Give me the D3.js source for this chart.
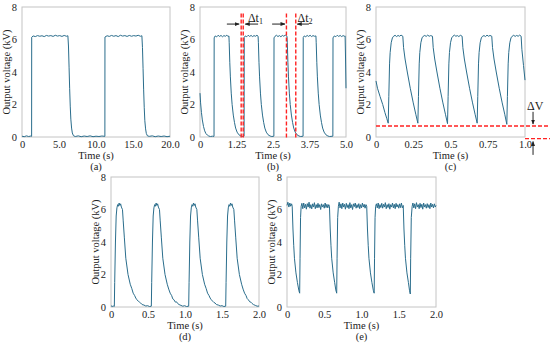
<!DOCTYPE html>
<html lang="en">
<head>
<meta charset="UTF-8">
<title>Output voltage waveforms</title>
<script src="https://d3js.org/d3.v7.min.js"></script>
<style>
  body { margin: 0; background: #fff; }
  svg { display: block; font-family: "Liberation Serif", "Times New Roman", serif; }
  .lbl { font-size: 10.5px; fill: #222; }
</style>
</head>
<body>
<svg id="chart" width="550" height="345"></svg>
<script>
// ---- data ----
const yTicks = [0, 2, 4, 6, 8];

const xTicksA = [0, 5, 10, 15, 20];
const xLabelsA = ["0", "5.0", "10.0", "15.0", "20.0"];
const xTicksB = [0, 1.25, 2.5, 3.75, 5];
const xLabelsB = ["0", "1.25", "2.5", "3.75", "5.0"];
const xTicksC = [0, 0.25, 0.5, 0.75, 1];
const xLabelsC = ["0", "0.25", "0.5", "0.75", "1.0"];
const xTicksDE = [0, 0.5, 1, 1.5, 2];
const xLabelsDE = ["0", "0.5", "1.0", "1.5", "2.0"];

// [time (s), voltage (kV)]
const traceA = [
  [0,0.05],[0.3,0.02],[0.6,0.07],[0.9,0.03],[1.2,0.06],[1.3,0.04],
  [1.31,6.14],[1.5,6.22],[1.8,6.18],[2.1,6.24],[2.4,6.2],[2.7,6.23],[3.0,6.18],[3.3,6.25],[3.6,6.21],[3.9,6.24],[4.2,6.19],[4.5,6.26],[4.8,6.21],[5.1,6.24],[5.4,6.19],[5.7,6.25],[6.0,6.2],[6.2,6.23],
  [6.28,5.6],[6.36,4.3],[6.44,3.0],[6.52,1.9],[6.6,1.1],[6.7,0.55],[6.8,0.25],[6.95,0.08],[7.2,0.03],[7.6,0.07],[8.0,0.02],[8.4,0.06],[8.8,0.03],[9.2,0.07],[9.6,0.02],[10.0,0.05],[10.4,0.03],[10.8,0.06],[11.2,0.04],
  [11.21,6.15],[11.5,6.23],[11.8,6.19],[12.1,6.25],[12.4,6.2],[12.7,6.24],[13.0,6.18],[13.3,6.26],[13.6,6.21],[13.9,6.24],[14.2,6.19],[14.5,6.25],[14.8,6.2],[15.1,6.24],[15.4,6.21],[15.7,6.26],[16.0,6.2],[16.2,6.23],
  [16.28,5.5],[16.36,4.2],[16.44,2.9],[16.52,1.8],[16.6,1.0],[16.7,0.5],[16.8,0.22],[16.95,0.07],[17.2,0.04],[17.6,0.07],[18.0,0.02],[18.4,0.06],[18.8,0.03],[19.2,0.06],[19.6,0.02],[20,0.05]
];

const traceB = [
  [0,2.7],[0.02,2.1],[0.05,1.5],[0.08,1.05],[0.12,0.65],[0.16,0.38],[0.2,0.22],[0.25,0.12],[0.3,0.06],[0.36,0.03],[0.42,0.05],[0.48,0.04],
  [0.485,6.1],[0.52,6.22],[0.57,6.16],[0.62,6.26],[0.67,6.19],[0.72,6.25],[0.77,6.17],[0.82,6.24],[0.87,6.2],[0.92,6.27],[0.96,6.18],[0.99,6.22],
  [1.0,5.8],[1.02,4.6],[1.04,3.7],[1.07,2.7],[1.1,2.0],[1.14,1.35],[1.18,0.9],[1.22,0.55],[1.27,0.3],[1.33,0.14],[1.4,0.06],[1.46,0.03],[1.51,0.05],
  [1.515,6.12],[1.55,6.22],[1.6,6.17],[1.65,6.26],[1.7,6.19],[1.75,6.25],[1.8,6.18],[1.85,6.24],[1.9,6.2],[1.95,6.26],[1.99,6.2],
  [2.0,5.8],[2.02,4.6],[2.04,3.7],[2.07,2.7],[2.1,2.0],[2.14,1.35],[2.18,0.9],[2.22,0.55],[2.27,0.3],[2.33,0.14],[2.4,0.06],[2.46,0.03],[2.53,0.05],
  [2.535,6.1],[2.57,6.2],[2.62,6.26],[2.67,6.18],[2.72,6.24],[2.77,6.17],[2.82,6.25],[2.87,6.2],[2.92,6.27],[2.98,6.2],
  [2.99,5.8],[3.01,4.6],[3.03,3.7],[3.06,2.7],[3.09,2.0],[3.13,1.35],[3.17,0.9],[3.21,0.55],[3.26,0.3],[3.32,0.14],[3.39,0.06],[3.45,0.03],[3.53,0.05],
  [3.535,6.12],[3.57,6.22],[3.62,6.17],[3.67,6.25],[3.72,6.19],[3.77,6.26],[3.82,6.18],[3.87,6.24],[3.92,6.2],[3.97,6.22],
  [3.98,5.8],[4.0,4.6],[4.02,3.7],[4.05,2.7],[4.08,2.0],[4.12,1.35],[4.16,0.9],[4.2,0.55],[4.25,0.3],[4.31,0.14],[4.38,0.06],[4.44,0.03],[4.55,0.05],
  [4.555,6.1],[4.6,6.22],[4.65,6.17],[4.7,6.26],[4.75,6.19],[4.8,6.25],[4.85,6.18],[4.9,6.24],[4.95,6.2],[4.97,6.22],[4.985,4.8],[5.0,3.0]
];

const traceC = [
  [0,3.45],[0.01,3.0],[0.027,2.5],[0.045,2.0],[0.06,1.5],[0.072,1.15],[0.082,0.85],
  [0.086,2.5],[0.091,4.5],[0.095,5.2],[0.102,5.8],[0.11,6.1],[0.118,6.2],[0.128,6.26],[0.138,6.18],[0.148,6.25],[0.158,6.2],[0.168,6.27],[0.18,6.2],
  [0.185,5.5],[0.195,4.8],[0.21,4.0],[0.23,3.0],[0.25,2.1],[0.267,1.4],[0.281,0.85],
  [0.285,2.5],[0.29,4.5],[0.294,5.2],[0.301,5.8],[0.309,6.1],[0.317,6.2],[0.327,6.25],[0.337,6.19],[0.347,6.27],[0.357,6.2],[0.367,6.24],[0.379,6.2],
  [0.384,5.5],[0.394,4.8],[0.409,4.0],[0.429,3.0],[0.449,2.1],[0.466,1.4],[0.48,0.82],
  [0.484,2.5],[0.489,4.5],[0.493,5.2],[0.5,5.8],[0.508,6.1],[0.516,6.2],[0.526,6.27],[0.536,6.2],[0.546,6.24],[0.556,6.18],[0.566,6.26],[0.578,6.2],
  [0.583,5.5],[0.593,4.8],[0.608,4.0],[0.628,3.0],[0.648,2.1],[0.665,1.4],[0.679,0.85],
  [0.683,2.5],[0.688,4.5],[0.692,5.2],[0.699,5.8],[0.707,6.1],[0.715,6.2],[0.725,6.24],[0.735,6.18],[0.745,6.27],[0.755,6.2],[0.765,6.25],[0.777,6.2],
  [0.782,5.5],[0.792,4.8],[0.807,4.0],[0.827,3.0],[0.847,2.1],[0.864,1.4],[0.878,0.78],
  [0.882,2.5],[0.887,4.5],[0.891,5.2],[0.898,5.8],[0.906,6.1],[0.914,6.2],[0.924,6.26],[0.934,6.19],[0.944,6.25],[0.954,6.2],[0.964,6.27],[0.974,6.2],
  [0.979,5.4],[0.99,4.4],[1.0,3.5]
];

const traceD = [
  [0,0.08],[0.015,0.03],[0.03,0.06],[0.045,0.04],
  [0.05,1.5],[0.06,4.0],[0.07,5.6],[0.08,6.1],[0.09,6.3],[0.1,6.2],[0.11,6.4],[0.12,6.25],[0.13,6.35],[0.14,6.15],[0.155,6.0],[0.165,5.3],[0.18,4.3],[0.2,3.0],[0.23,2.0],[0.26,1.4],[0.28,1.15],[0.3,0.85],[0.32,0.7],[0.335,0.55],[0.35,0.45],[0.37,0.35],[0.385,0.3],[0.4,0.25],[0.42,0.15],[0.445,0.12],[0.47,0.06],[0.495,0.08],[0.52,0.03],[0.545,0.05],
  [0.55,1.5],[0.56,4.0],[0.57,5.6],[0.58,6.1],[0.59,6.3],[0.6,6.2],[0.61,6.4],[0.62,6.25],[0.63,6.35],[0.64,6.15],[0.655,6.0],[0.665,5.3],[0.68,4.3],[0.7,3.0],[0.73,2.0],[0.76,1.4],[0.78,1.1],[0.8,0.85],[0.82,0.7],[0.835,0.5],[0.85,0.45],[0.87,0.3],[0.885,0.32],[0.9,0.22],[0.92,0.15],[0.945,0.1],[0.97,0.05],[0.995,0.08],[1.02,0.03],[1.05,0.05],
  [1.055,1.5],[1.065,4.0],[1.075,5.6],[1.085,6.1],[1.095,6.3],[1.105,6.2],[1.115,6.4],[1.125,6.25],[1.135,6.35],[1.145,6.15],[1.16,6.0],[1.17,5.3],[1.185,4.3],[1.205,3.0],[1.235,2.0],[1.265,1.4],[1.285,1.15],[1.305,0.85],[1.325,0.7],[1.34,0.55],[1.355,0.45],[1.375,0.35],[1.39,0.28],[1.405,0.25],[1.425,0.15],[1.45,0.12],[1.475,0.06],[1.5,0.08],[1.525,0.03],[1.55,0.05],
  [1.555,1.5],[1.565,4.0],[1.575,5.6],[1.585,6.1],[1.595,6.3],[1.605,6.2],[1.615,6.4],[1.625,6.25],[1.635,6.35],[1.645,6.15],[1.66,6.0],[1.67,5.3],[1.685,4.3],[1.705,3.0],[1.735,2.0],[1.765,1.4],[1.785,1.1],[1.805,0.85],[1.825,0.7],[1.84,0.52],[1.855,0.45],[1.875,0.32],[1.89,0.3],[1.905,0.22],[1.925,0.15],[1.95,0.1],[1.975,0.05],[2.0,0.06]
];

const traceE = [
  [0,6.25],[0.012,6.45],[0.025,6.15],[0.038,6.4],[0.05,6.2],[0.062,6.35],[0.07,6.2],
  [0.08,4.8],[0.09,3.8],[0.1,3.0],[0.12,2.1],[0.14,1.5],[0.16,1.0],[0.17,0.85],
  [0.175,3.0],[0.182,5.5],[0.19,6.2],[0.2,6.38],[0.212,6.05],[0.224,6.4],[0.236,6.1],[0.248,6.32],[0.26,6.02],[0.272,6.36],[0.284,6.15],[0.296,6.45],[0.308,6.08],[0.32,6.3],[0.332,6.04],[0.344,6.35],[0.356,6.15],[0.368,6.42],[0.38,6.05],[0.392,6.3],[0.404,6.1],[0.416,6.38],[0.428,6.12],[0.44,6.3],[0.452,6.0],[0.464,6.35],[0.476,6.15],[0.488,6.3],[0.5,6.08],[0.512,6.4],[0.524,6.12],[0.536,6.32],[0.548,6.1],[0.56,6.3],[0.57,6.2],
  [0.58,4.8],[0.59,3.8],[0.6,3.0],[0.62,2.1],[0.64,1.5],[0.655,1.05],[0.667,0.85],
  [0.672,3.0],[0.68,5.5],[0.69,6.2],[0.7,6.45],[0.712,6.1],[0.724,6.35],[0.736,6.05],[0.748,6.4],[0.76,6.15],[0.772,6.32],[0.784,6.02],[0.796,6.38],[0.808,6.12],[0.82,6.3],[0.832,6.05],[0.844,6.42],[0.856,6.1],[0.868,6.3],[0.88,6.0],[0.892,6.35],[0.904,6.18],[0.916,6.4],[0.928,6.08],[0.94,6.3],[0.952,6.12],[0.964,6.36],[0.976,6.05],[0.988,6.3],[1.0,6.1],[1.012,6.4],[1.024,6.15],[1.036,6.32],[1.048,6.08],[1.06,6.3],[1.07,6.2],
  [1.08,4.8],[1.09,3.8],[1.1,3.0],[1.12,2.1],[1.14,1.5],[1.16,1.0],[1.17,0.85],
  [1.175,3.0],[1.182,5.5],[1.19,6.2],[1.2,6.35],[1.212,6.1],[1.224,6.4],[1.236,6.05],[1.248,6.3],[1.26,6.12],[1.272,6.38],[1.284,6.08],[1.296,6.32],[1.308,6.15],[1.32,6.42],[1.332,6.05],[1.344,6.3],[1.356,6.12],[1.368,6.36],[1.38,6.02],[1.392,6.3],[1.404,6.15],[1.416,6.4],[1.428,6.1],[1.44,6.32],[1.452,6.05],[1.464,6.38],[1.476,6.15],[1.488,6.3],[1.5,6.08],[1.512,6.35],[1.524,6.12],[1.536,6.4],[1.548,6.1],[1.56,6.25],
  [1.57,4.8],[1.58,3.8],[1.59,3.0],[1.61,2.1],[1.63,1.5],[1.645,1.0],[1.655,0.8],
  [1.66,3.0],[1.668,5.5],[1.68,6.2],[1.69,6.4],[1.702,6.1],[1.714,6.35],[1.726,6.05],[1.738,6.42],[1.75,6.15],[1.762,6.3],[1.774,6.05],[1.786,6.38],[1.798,6.12],[1.81,6.32],[1.822,6.02],[1.834,6.4],[1.846,6.15],[1.858,6.3],[1.87,6.08],[1.882,6.36],[1.894,6.12],[1.906,6.3],[1.918,6.05],[1.93,6.4],[1.942,6.15],[1.954,6.32],[1.966,6.1],[1.978,6.35],[1.99,6.15],[2.0,6.25]
];

// annotations in (b): dashed markers and delay arrows [from t, to t, kV]
const dashTimesB = [1.41, 1.48, 2.96, 3.28];
const arrowsB = [[0.92, 1.34, 6.95], [1.99, 1.55, 6.95], [2.47, 2.91, 6.95], [3.73, 3.33, 6.95]];
const labelsB = [{ t: 1.64, v: 7.1, sub: "1" }, { t: 3.34, v: 7.1, sub: "2" }];

// annotations in (c): ripple level lines [from t, to t, kV] and arrows [t, from kV, to kV]
const dashLevelsC = [[0, 1.175, 0.68], [1.0, 1.175, -0.1]];
const arrowsC = [[1.054, 1.55, 0.8], [1.054, -1.1, -0.28]];

// ---- layout ----
const H = 130;
const panels = [
  { name: "(a)", left: 22,  top: 7,   w: 148, xMax: 20, ticks: xTicksA,  labels: xLabelsA,  trace: traceA },
  { name: "(b)", left: 200, top: 7,   w: 146, xMax: 5,  ticks: xTicksB,  labels: xLabelsB,  trace: traceB },
  { name: "(c)", left: 376, top: 7,   w: 149, xMax: 1,  ticks: xTicksC,  labels: xLabelsC,  trace: traceC },
  { name: "(d)", left: 111, top: 177, w: 148, xMax: 2,  ticks: xTicksDE, labels: xLabelsDE, trace: traceD },
  { name: "(e)", left: 287, top: 177, w: 149, xMax: 2,  ticks: xTicksDE, labels: xLabelsDE, trace: traceE }
];

const svg = d3.select("#chart");
const traceColor = "#2a6d8c";
const red = "#ff2222";

svg.append("defs").append("marker")
  .attr("id", "arr")
  .attr("viewBox", "0 0 10 10")
  .attr("refX", 9).attr("refY", 5)
  .attr("markerWidth", 5).attr("markerHeight", 5)
  .attr("orient", "auto")
  .append("path").attr("d", "M0,1L10,5L0,9z").attr("fill", "#222");

const scales = {};

panels.forEach(p => {
  const x = d3.scaleLinear().domain([0, p.xMax]).range([0, p.w]);
  const y = d3.scaleLinear().domain([0, 8]).range([H, 0]);
  scales[p.name] = { x, y };
  const g = svg.append("g").attr("transform", `translate(${p.left},${p.top})`);

  g.append("rect").attr("width", p.w).attr("height", H)
    .attr("fill", "none").attr("stroke", "#c4c4c4").attr("stroke-width", 1);

  g.append("g")
    .attr("transform", `translate(0,${H})`)
    .call(d3.axisBottom(x).tickValues(p.ticks).tickFormat((d, i) => p.labels[i]).tickSize(0).tickPadding(4))
    .attr("font-family", null).attr("font-size", null)
    .call(a => a.select(".domain").remove())
    .selectAll("text").attr("class", "lbl");

  g.append("g")
    .call(d3.axisLeft(y).tickValues(yTicks).tickSize(0).tickPadding(5))
    .attr("font-family", null).attr("font-size", null)
    .call(a => a.select(".domain").remove())
    .selectAll("text").attr("class", "lbl");

  g.append("path")
    .datum(p.trace)
    .attr("d", d3.line().x(d => x(d[0])).y(d => y(d[1])))
    .attr("fill", "none")
    .attr("stroke", traceColor)
    .attr("stroke-width", 1)
    .attr("stroke-linejoin", "round");

  g.append("text").attr("class", "lbl")
    .attr("x", p.w / 2).attr("y", H + 21.5)
    .attr("text-anchor", "middle").text("Time (s)");

  g.append("text").attr("class", "lbl")
    .attr("x", p.w / 2).attr("y", H + 32.5)
    .attr("text-anchor", "middle").text(p.name);

  g.append("text").attr("class", "lbl")
    .attr("transform", `translate(-15.5,${H / 2}) rotate(-90)`)
    .attr("text-anchor", "middle").attr("dominant-baseline", "central")
    .text("Output voltage (kV)");

  p.g = g;
});

// (b) annotations
{
  const { x, y } = scales["(b)"];
  const g = panels[1].g;
  g.selectAll(".dashB").data(dashTimesB).join("line")
    .attr("x1", d => x(d)).attr("x2", d => x(d))
    .attr("y1", y(7.6)).attr("y2", y(-0.05))
    .attr("stroke", red).attr("stroke-width", 1.4).attr("stroke-dasharray", "4,2");
  g.selectAll(".arrB").data(arrowsB).join("line")
    .attr("x1", d => x(d[0])).attr("x2", d => x(d[1]))
    .attr("y1", d => y(d[2])).attr("y2", d => y(d[2]))
    .attr("stroke", "#222").attr("stroke-width", 1).attr("marker-end", "url(#arr)");
  labelsB.forEach(l => {
    const t = g.append("text").attr("class", "lbl")
      .attr("x", x(l.t)).attr("y", y(l.v)).style("font-size", "12px");
    t.append("tspan").text("Δt");
    t.append("tspan").attr("dy", 2).style("font-size", "8px").text(l.sub);
  });
}

// (c) annotations
{
  const { x, y } = scales["(c)"];
  const g = panels[2].g;
  g.selectAll(".levC").data(dashLevelsC).join("line")
    .attr("x1", d => x(d[0])).attr("x2", d => x(d[1]))
    .attr("y1", d => y(d[2])).attr("y2", d => y(d[2]))
    .attr("stroke", red).attr("stroke-width", 1.4).attr("stroke-dasharray", "4,2");
  g.selectAll(".arrC").data(arrowsC).join("line")
    .attr("x1", d => x(d[0])).attr("x2", d => x(d[0]))
    .attr("y1", d => y(d[1])).attr("y2", d => y(d[2]))
    .attr("stroke", "#222").attr("stroke-width", 1).attr("marker-end", "url(#arr)");
  g.append("text").attr("class", "lbl")
    .attr("x", x(1.013)).attr("y", y(1.66)).style("font-size", "12px").text("ΔV");
}
</script>
</body>
</html>
